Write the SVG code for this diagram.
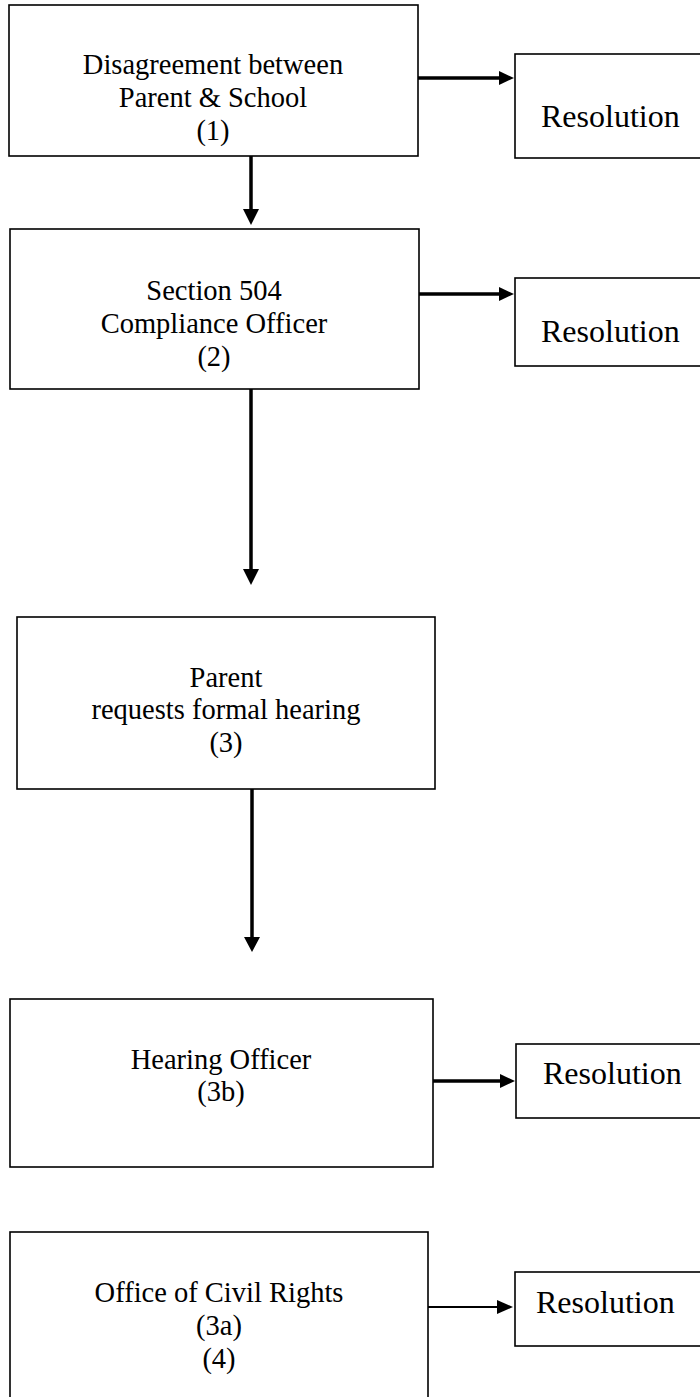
<svg xmlns="http://www.w3.org/2000/svg" width="700" height="1397" viewBox="0 0 700 1397">
<style>
.box{fill:#fff;stroke:#000;stroke-width:1.6}
.t{font-family:"Liberation Serif","Times New Roman",serif;font-size:28.5px;fill:#000;text-anchor:middle}
.r{font-family:"Liberation Serif","Times New Roman",serif;font-size:32px;fill:#000}
.c{stroke:#000;stroke-width:3.5;fill:none}
.c2{stroke:#000;stroke-width:2;fill:none}
.h{fill:#000}
</style>
<rect width="700" height="1397" fill="#fff"/>
<g id="connectors">
<line class="c" x1="251" y1="156" x2="251" y2="212"/>
<polygon class="h" points="243,209 259,209 251,225"/>
<line class="c" x1="418" y1="78" x2="502" y2="78"/>
<polygon class="h" points="499,71 499,85 514,78"/>
<line class="c" x1="419" y1="294" x2="502" y2="294"/>
<polygon class="h" points="499,287 499,301 514,294"/>
<line class="c" x1="251" y1="389" x2="251" y2="572"/>
<polygon class="h" points="243,569 259,569 251,585"/>
<line class="c" x1="252" y1="789" x2="252" y2="940"/>
<polygon class="h" points="244,937 260,937 252,952"/>
<line class="c" x1="433" y1="1081" x2="503" y2="1081"/>
<polygon class="h" points="500,1074 500,1088 515,1081"/>
<line class="c2" x1="428" y1="1307" x2="500" y2="1307"/>
<polygon class="h" points="497,1300 497,1314 513,1307"/>
</g>
<g id="n1">
<rect class="box" x="9" y="5" width="409" height="151"/>
<text class="t" x="213" y="74">Disagreement between</text>
<text class="t" x="213" y="107">Parent &amp; School</text>
<text class="t" x="213" y="140">(1)</text>
</g>
<g id="r1">
<rect class="box" x="515" y="54" width="200" height="104"/>
<text class="r" x="541" y="127">Resolution</text>
</g>
<g id="n2">
<rect class="box" x="10" y="229" width="409" height="160"/>
<text class="t" x="214" y="300">Section 504</text>
<text class="t" x="214" y="333">Compliance Officer</text>
<text class="t" x="214" y="366">(2)</text>
</g>
<g id="r2">
<rect class="box" x="515" y="278" width="200" height="88"/>
<text class="r" x="541" y="342">Resolution</text>
</g>
<g id="n3">
<rect class="box" x="17" y="617" width="418" height="172"/>
<text class="t" x="226" y="687">Parent</text>
<text class="t" x="226" y="719">requests formal hearing</text>
<text class="t" x="226" y="752">(3)</text>
</g>
<g id="n4">
<rect class="box" x="10" y="999" width="423" height="168"/>
<text class="t" x="221" y="1069">Hearing Officer</text>
<text class="t" x="221" y="1101">(3b)</text>
</g>
<g id="r3">
<rect class="box" x="516" y="1044" width="200" height="74"/>
<text class="r" x="543" y="1084">Resolution</text>
</g>
<g id="n5">
<rect class="box" x="10" y="1232" width="418" height="190"/>
<text class="t" x="219" y="1302">Office of Civil Rights</text>
<text class="t" x="219" y="1335">(3a)</text>
<text class="t" x="219" y="1368">(4)</text>
</g>
<g id="r4">
<rect class="box" x="515" y="1272" width="200" height="74"/>
<text class="r" x="536" y="1313">Resolution</text>
</g>
</svg>
